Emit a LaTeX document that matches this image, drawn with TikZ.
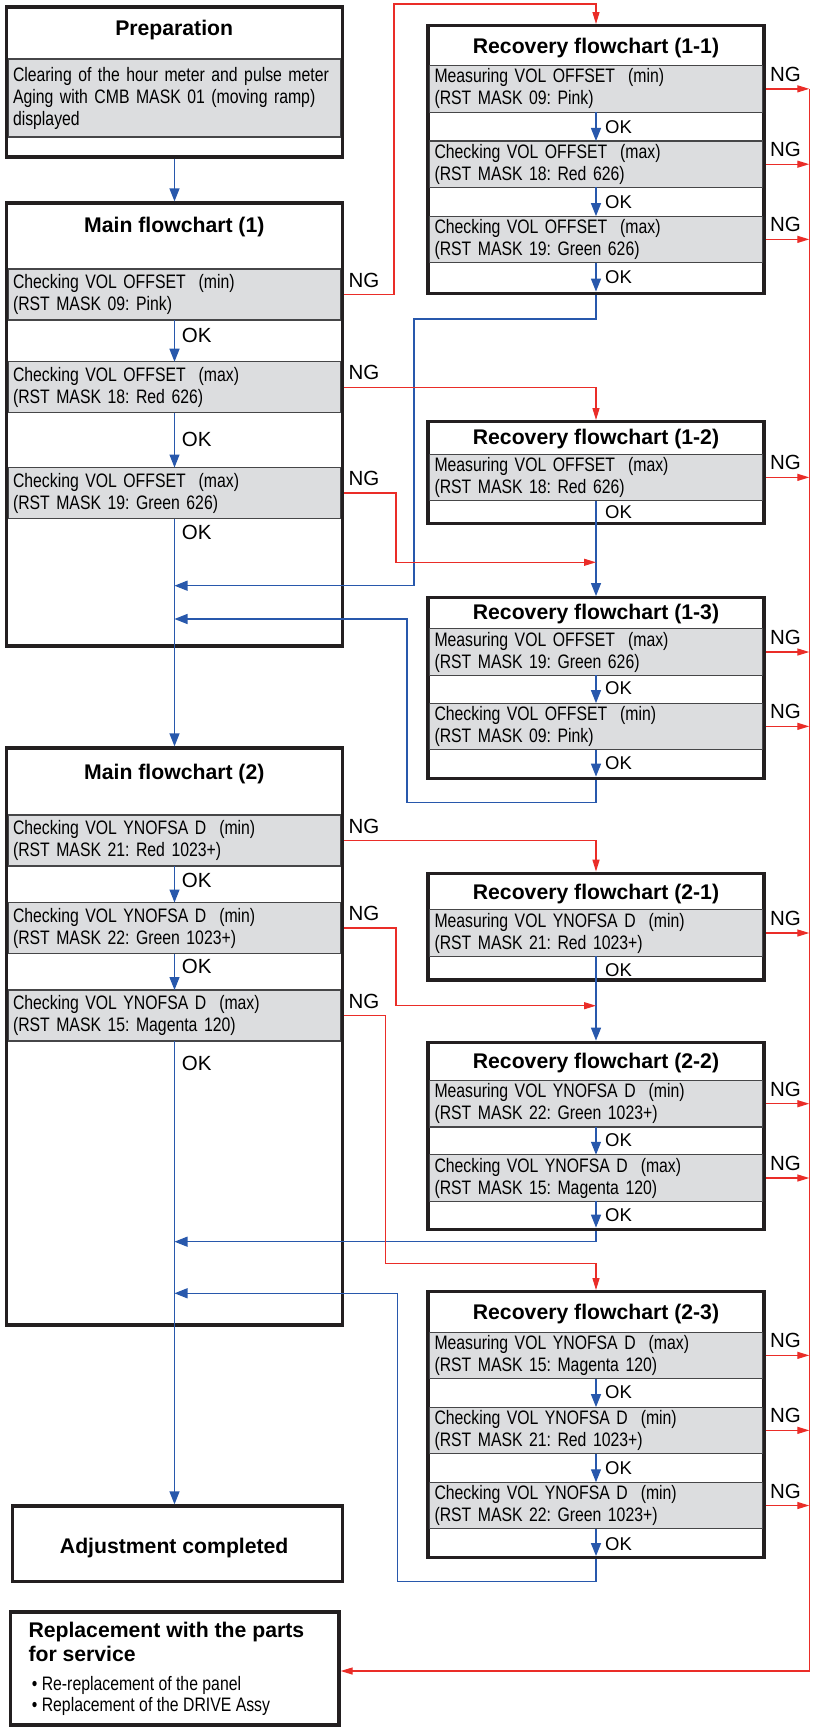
\documentclass[tikz,border=0pt]{standalone}
\usepackage{fontspec}
\setmainfont{Liberation Sans}
\newfontfamily\condf[FakeStretch=0.81]{Liberation Sans}
\usetikzlibrary{arrows.meta}
\frenchspacing

\definecolor{framec}{RGB}{35,31,32}
\definecolor{sepc}{RGB}{70,70,72}
\definecolor{bandc}{RGB}{220,221,223}
\definecolor{okc}{RGB}{40,88,172}
\definecolor{ngc}{RGB}{234,45,40}

\newcommand\fcBody{\condf\fontsize{19.5}{22}\selectfont}
\newcommand\fcTitle{\bfseries\fontsize{21.2}{24.4}\selectfont}
\newcommand\fcOk{\fontsize{20.5}{22}\selectfont}
\newcommand\fcOkSmall{\fontsize{18.5}{20}\selectfont}

\begin{document}
\begin{tikzpicture}[x=1pt,y=-1pt,
  frame/.style={draw=framec, line width=3.3pt, fill=white, inner sep=0pt},
  band/.style={draw=sepc, line width=1.1pt, fill=bandc, inner xsep=4.6pt, inner ysep=0pt,
    outer sep=0pt, minimum width=332.7pt, text width=323pt, align=left, font=\fcBody},
  ttl/.style={anchor=base, font=\fcTitle, inner sep=0pt},
  lline/.style={anchor=base west, inner sep=0pt},
  oklbl/.style={anchor=west, inner sep=0pt, font=\fcOk},
  roklbl/.style={anchor=west, inner sep=0pt, font=\fcOkSmall},
  nglbl/.style={anchor=base west, inner sep=0pt, font=\fcOk},
  okln/.style={draw=okc, line width=1.3pt},
  okarr/.style={okln, -{Triangle[length=13pt,width=10pt]}},
  ngarr/.style={draw=ngc, line width=1.3pt, -{Triangle[length=12pt,width=7pt]}},
  ngln/.style={draw=ngc, line width=1.3pt}]
\useasboundingbox (0,0) rectangle (813,1727);

% ---------- outer frames ----------
\node[frame, minimum width=336pt, minimum height=150pt]   (prep) at (174.5,82) {};
\node[frame, minimum width=336pt, minimum height=443pt]   (m1)   at (174.5,424.5) {};
\node[frame, minimum width=336pt, minimum height=577pt]   (m2)   at (174.5,1036.5) {};
\node[frame, minimum width=330pt, minimum height=75.7pt]  (adj)  at (177.3,1543.85) {};
\node[frame, minimum width=328.2pt, minimum height=113pt] (repl) at (174.9,1668.5) {};
\node[frame, minimum width=336pt, minimum height=267.6pt] (r11)  at (596,159.5) {};
\node[frame, minimum width=336pt, minimum height=101.6pt] (r12)  at (596,472.5) {};
\node[frame, minimum width=336pt, minimum height=180.6pt] (r13)  at (596,688) {};
\node[frame, minimum width=336pt, minimum height=106.7pt] (r21)  at (596,926.65) {};
\node[frame, minimum width=336pt, minimum height=187pt]   (r22)  at (596,1135.8) {};
\node[frame, minimum width=336pt, minimum height=266pt]   (r23)  at (596,1424.7) {};

% ---------- grey step bands ----------
\node[band, minimum height=78pt] (pb) at (174.5,98)
  {Clearing of the hour meter and pulse meter\\Aging with CMB MASK 01 (moving ramp)\\displayed};

\node[band, minimum height=51pt] (m1b1) at (174.5,294.5) {Checking VOL OFFSET~~(min)\\(RST MASK 09: Pink)};
\node[band, minimum height=51pt] (m1b2) at (174.5,387.2) {Checking VOL OFFSET~~(max)\\(RST MASK 18: Red 626)};
\node[band, minimum height=51pt] (m1b3) at (174.5,493)   {Checking VOL OFFSET~~(max)\\(RST MASK 19: Green 626)};

\node[band, minimum height=51pt] (m2b1) at (174.5,840.5)  {Checking VOL YNOFSA D~~(min)\\(RST MASK 21: Red 1023+)};
\node[band, minimum height=51pt] (m2b2) at (174.5,928)    {Checking VOL YNOFSA D~~(min)\\(RST MASK 22: Green 1023+)};
\node[band, minimum height=51pt] (m2b3) at (174.5,1015.5) {Checking VOL YNOFSA D~~(max)\\(RST MASK 15: Magenta 120)};

\node[band, minimum height=46.5pt] (r11a) at (596,88.85)  {Measuring VOL OFFSET~~(min)\\(RST MASK 09: Pink)};
\node[band, minimum height=46.5pt] (r11b) at (596,164.2)  {Checking VOL OFFSET~~(max)\\(RST MASK 18: Red 626)};
\node[band, minimum height=46.5pt] (r11c) at (596,239.35) {Checking VOL OFFSET~~(max)\\(RST MASK 19: Green 626)};

\node[band, minimum height=46.5pt] (r12a) at (596,477.35) {Measuring VOL OFFSET~~(max)\\(RST MASK 18: Red 626)};

\node[band, minimum height=46.5pt] (r13a) at (596,652)    {Measuring VOL OFFSET~~(max)\\(RST MASK 19: Green 626)};
\node[band, minimum height=46.5pt] (r13b) at (596,726.35) {Checking VOL OFFSET~~(min)\\(RST MASK 09: Pink)};

\node[band, minimum height=46.5pt] (r21a) at (596,933)    {Measuring VOL YNOFSA D~~(min)\\(RST MASK 21: Red 1023+)};

\node[band, minimum height=46.5pt] (r22a) at (596,1103.7) {Measuring VOL YNOFSA D~~(min)\\(RST MASK 22: Green 1023+)};
\node[band, minimum height=46.5pt] (r22b) at (596,1178)   {Checking VOL YNOFSA D~~(max)\\(RST MASK 15: Magenta 120)};

\node[band, minimum height=46.5pt] (r23a) at (596,1355.35) {Measuring VOL YNOFSA D~~(max)\\(RST MASK 15: Magenta 120)};
\node[band, minimum height=46.5pt] (r23b) at (596,1430.35) {Checking VOL YNOFSA D~~(min)\\(RST MASK 21: Red 1023+)};
\node[band, minimum height=46.5pt] (r23c) at (596,1505.5)  {Checking VOL YNOFSA D~~(min)\\(RST MASK 22: Green 1023+)};

% ---------- titles ----------
\node[ttl] (prept) at (174.2,35)     {Preparation};
\node[ttl] (m1t)   at (174.3,232.3)  {Main flowchart (1)};
\node[ttl] (m2t)   at (174.3,779)    {Main flowchart (2)};
\node[ttl] (adjt)  at (174.2,1553.3) {Adjustment completed};
\node[ttl] (r11t)  at (596,53.3)     {Recovery flowchart (1-1)};
\node[ttl] (r12t)  at (596,444)      {Recovery flowchart (1-2)};
\node[ttl] (r13t)  at (596,619)      {Recovery flowchart (1-3)};
\node[ttl] (r21t)  at (596,899)      {Recovery flowchart (2-1)};
\node[ttl] (r22t)  at (596,1068.7)   {Recovery flowchart (2-2)};
\node[ttl] (r23t)  at (596,1319.3)   {Recovery flowchart (2-3)};

% replacement box contents
\node[lline, font=\fcTitle] (replt1) at (28.3,1637.3) {Replacement with the parts};
\node[lline, font=\fcTitle] (replt2) at (28.3,1661.7) {for service};
\node[lline, font=\fcBody]  (repll1) at (31.7,1690.7) {\textbullet\ Re-replacement of the panel};
\node[lline, font=\fcBody]  (repll2) at (31.7,1711.7) {\textbullet\ Replacement of the DRIVE Assy};

% ---------- OK path (blue) ----------
\draw[okarr] (prep.south) -- (m1.north);
\draw[okarr] (m1b1.south) -- (m1b2.north);
\draw[okarr] (m1b2.south) -- (m1b3.north);
\draw[okarr] (m1b3.south) -- (m2.north);
\draw[okarr] (m2b1.south) -- (m2b2.north);
\draw[okarr] (m2b2.south) -- (m2b3.north);
\draw[okarr] (m2b3.south) -- (m2b3.south |- adj.north);

\draw[okarr] (r11a.south) -- (r11b.north);
\draw[okarr] (r11b.south) -- (r11c.north);
\draw[okarr, shorten >=3.3pt] (r11c.south) -- (r11.south);
\draw[okarr] (r11.south) |- (414,319) |- (m1b3.south |- 0,585.7);

\draw[okln]  (r12a.south) -- (r12.south);
\draw[okarr] (r12.south) -- (r13.north);
\draw[okarr] (r13a.south) -- (r13b.north);
\draw[okarr, shorten >=3.3pt] (r13b.south) -- (r13.south);
\draw[okarr] (r13.south) |- (407,802.7) |- (m1b3.south |- 0,619);

\draw[okln]  (r21a.south) -- (r21.south);
\draw[okarr] (r21.south) -- (r22.north);
\draw[okarr] (r22a.south) -- (r22b.north);
\draw[okarr, shorten >=3.3pt] (r22b.south) -- (r22.south);
\draw[okarr] (r22.south) |- (m2b3.south |- 0,1241.7);

\draw[okarr] (r23a.south) -- (r23b.north);
\draw[okarr] (r23b.south) -- (r23c.north);
\draw[okarr, shorten >=3.3pt] (r23c.south) -- (r23.south);
\draw[okarr] (r23.south) |- (397.3,1581.7) |- (m2b3.south |- 0,1293.3);

% ---------- NG path (red) ----------
\draw[ngarr] (m1b1.east -| m1.east) -| (394,4) -| (r11.north);
\draw[ngarr] (m1b2.east -| m1.east) -| (r12.north);
\draw[ngarr] (m1b3.east -| m1.east) -| (396,562.3) -- (r13.north |- 0,562.3);
\draw[ngarr] (m2b1.east -| m2.east) -| (r21.north);
\draw[ngarr] (m2b2.east -| m2.east) -| (396,1005.7) -- (r22.north |- 0,1005.7);
\draw[ngarr] (m2b3.east -| m2.east) -| (385.7,1263.3) -| (r23.north);

\coordinate (bus) at (809.3,1671);
\foreach \b/\f in {r11a/r11,r11b/r11,r11c/r11,r12a/r12,r13a/r13,r13b/r13,
                   r21a/r21,r22a/r22,r22b/r22,r23a/r23,r23b/r23,r23c/r23}{
  \draw[ngarr] (\b.east -| \f.east) -- (\b.east -| bus);
  \node[nglbl] at ([xshift=7.5pt,yshift=7.5pt]\b.east) {NG};
}
\draw[ngarr] (r11a.east -| bus) -- (bus) -- (bus -| repl.east);

% ---------- NG labels on the main charts ----------
\foreach \b in {m1b1,m1b2,m1b3,m2b1,m2b2,m2b3}{
  \node[nglbl] at ([xshift=7.5pt,yshift=7.5pt]\b.east) {NG};
}

% ---------- OK labels ----------
\foreach \y in {335,439,532.7,880.7,966.7,1063.3}{
  \node[oklbl] at (181.7,\y) {OK};
}
\foreach \y in {126.7,202,276.7,512.3,688.3,763.3,970,1140,1215,1391.7,1468.3,1544}{
  \node[roklbl] at (605,\y) {OK};
}
\end{tikzpicture}
\end{document}
